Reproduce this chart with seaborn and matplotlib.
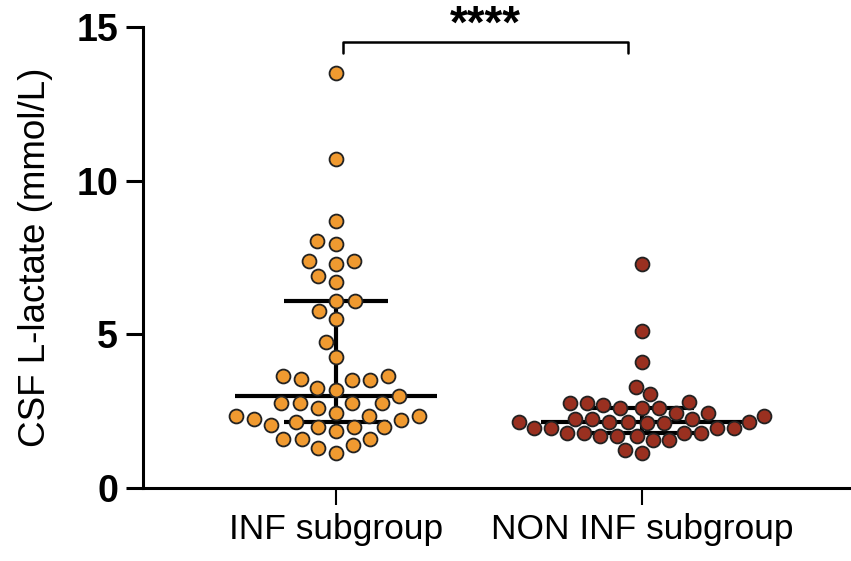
import numpy as np
import pandas as pd
import matplotlib
matplotlib.use('Agg')
import matplotlib.pyplot as plt
import seaborn as sns

# ── data ────────────────────────────────────────────────────────────────────
GROUPS = ['INF subgroup', 'NON INF subgroup']

inf_vals = [13.5, 10.7, 8.7, 8.05, 7.95, 7.4, 7.4, 7.3, 6.9, 6.7,
            6.1, 6.1, 5.75, 5.5, 4.75, 4.25, 3.65, 3.65, 3.5, 3.55,
            3.5, 3.2, 3.25, 3.0, 2.75, 2.75, 2.75, 2.75, 2.6, 2.45,
            2.35, 2.35, 2.35, 2.25, 2.2, 2.15, 2.0, 2.0, 2.0, 2.05,
            1.85, 1.6, 1.6, 1.6, 1.3, 1.4, 1.15]

non_vals = [7.3, 5.1, 4.1, 3.05, 3.3, 2.7, 2.6, 2.6, 2.75, 2.6,
            2.75, 2.8, 2.45, 2.45, 2.35, 2.15, 2.25, 2.15, 2.15, 2.25,
            2.15, 2.25, 2.1, 2.1, 1.95, 1.95, 1.95, 1.95, 1.7, 1.8,
            1.8, 1.7, 1.8, 1.7, 1.8, 1.55, 1.55, 1.15, 1.25]

COLORS = ['#F09A30', '#9A3020']
SIG_LABEL = '****'

df = pd.DataFrame({
    'group': [GROUPS[0]] * len(inf_vals) + [GROUPS[1]] * len(non_vals),
    'lactate': inf_vals + non_vals,
})

# ── figure ──────────────────────────────────────────────────────────────────
sns.set_style('ticks')
plt.rcParams['font.family'] = ['Liberation Sans', 'DejaVu Sans']
plt.rcParams['text.color'] = 'black'
plt.rcParams['axes.labelcolor'] = 'black'
plt.rcParams['xtick.color'] = 'black'
plt.rcParams['ytick.color'] = 'black'
plt.rcParams['axes.edgecolor'] = 'black'

fig = plt.figure(figsize=(8.51, 5.61), dpi=100)
ax = fig.add_axes([143 / 851, 73 / 561, 708 / 851, 461 / 561])

# median + IQR bars (drawn under the points)
for i, vals in enumerate([inf_vals, non_vals]):
    med = np.median(vals)
    q1, q3 = np.percentile(vals, [25, 75], method='weibull')
    ax.hlines(med, i - 0.33, i + 0.33, color='black', lw=3, zorder=1)
    ax.hlines([q1, q3], i - 0.17, i + 0.17, color='black', lw=3, zorder=1)
    ax.vlines(i, q1, q3, color='black', lw=3, zorder=1)

# swarms: the INF one is laid out with a bigger marker so the dots get
# some air, the NON one is packed tight like in the original
layout_size = [11.5, 10.2]
for grp, col, sz in zip(GROUPS, COLORS, layout_size):
    sns.swarmplot(data=df[df['group'] == grp], x='group', y='lactate',
                  order=GROUPS, color=col, size=sz, linewidth=1.3,
                  edgecolor='#222222', ax=ax, zorder=3)

ax.set_xlim(-0.63, 1.683)
ax.set_ylim(0, 15)
ax.set_yticks([0, 5, 10, 15])
ax.set_xlabel('')
ax.set_ylabel('CSF L-lactate (mmol/L)', fontsize=26.5, labelpad=17)

for lbl in ax.get_yticklabels():
    lbl.set_fontweight('bold')
ax.tick_params(axis='y', labelsize=27, length=12, width=2.2, pad=6)
ax.tick_params(axis='x', labelsize=25.5, length=12, width=1.5, pad=6)

sns.despine(ax=ax)
ax.spines['left'].set_linewidth(2.2)
ax.spines['bottom'].set_linewidth(2.2)

# significance bracket
ax.plot([0.023, 0.023, 0.955, 0.955], [14.15, 14.52, 14.52, 14.15],
        color='black', lw=1.8, clip_on=False)
ax.text(0.49, 15.05, SIG_LABEL, ha='center', va='center', fontsize=33,
        fontweight='bold', clip_on=False)

# freeze the swarm positions, then shrink the dots to their real size
fig.canvas.draw()
for coll in ax.collections:
    if 'draw' in coll.__dict__:
        del coll.draw
        coll.set_sizes([10 ** 2])

fig.savefig('out.png', dpi=100)
